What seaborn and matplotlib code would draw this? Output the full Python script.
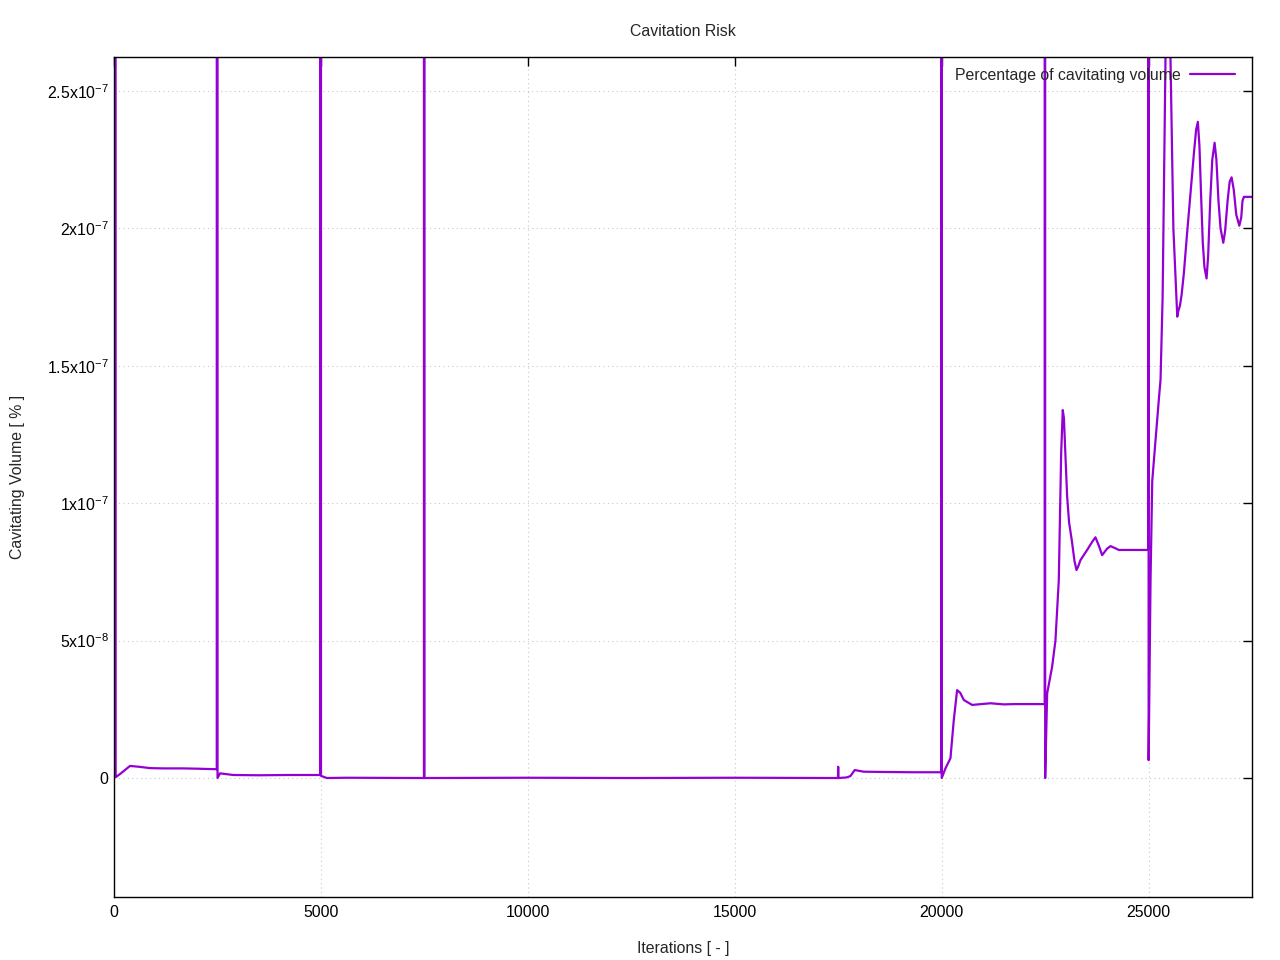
import numpy as np
import pandas as pd
import matplotlib
matplotlib.use("Agg")
from matplotlib import pyplot as plt
import seaborn as sns

# iteration / cavitating volume (in 1e-9 %)
iterations = [
    0, 10, 40, 150, 387, 600, 870, 1200, 1676, 2000, 2483,
    2498, 2502, 2563, 2885, 3500, 4200, 4980,
    4998, 5002, 5143, 5600, 7490,
    7498, 7502, 10000, 12500, 15000, 17495,
    17500, 17505, 17700, 17795, 17900, 18118, 18600, 19300, 19990,
    19998, 20002, 20092, 20213, 20293, 20374, 20450, 20535, 20737, 20950, 21180, 21500, 21744, 22200, 22490,
    22498, 22502, 22550, 22670, 22750, 22831, 22888, 22927, 22955, 22990, 23033, 23080, 23150, 23210, 23259,
    23300, 23355, 23516, 23640, 23717, 23800, 23878, 24000, 24081, 24200, 24282, 24990,
    24998, 25002, 25048, 25089, 25169, 25250, 25290, 25340, 25440, 25530, 25600,
    25694, 25720, 25760, 25800, 25854, 25930, 26015, 26100, 26150, 26192, 26230, 26270, 26310, 26350,
    26402, 26440, 26490, 26540, 26596, 26640, 26690, 26740, 26806, 26850, 26910, 26960, 27007, 27060,
    27120, 27193, 27240, 27270, 27304, 27500,
]
volume_e9 = [
    0.5, 5000, 0.3, 1.5, 4.4, 4.1, 3.6, 3.5, 3.5, 3.4, 3.2,
    5000, 0.0, 1.7, 1.1, 1.0, 1.1, 1.1,
    5000, 0.8, 0.0, 0.1, 0.0,
    5000, 0.0, 0.1, 0.0, 0.1, 0.0,
    4.1, 0.0, 0.2, 0.7, 2.9, 2.3, 2.2, 2.1, 2.1,
    5000, 0.0, 3.5, 7.2, 21.0, 32.0, 31.0, 28.4, 26.6, 26.9, 27.2, 26.8, 26.9, 26.9, 26.9,
    5000, 0.0, 30.8, 40.5, 50.0, 72.0, 118.0, 133.9, 131.0, 118.0, 102.4, 93.0, 86.0, 79.0, 75.7,
    77.0, 79.3, 83.0, 86.0, 87.6, 84.5, 81.1, 83.5, 84.4, 83.6, 83.0, 83.0,
    5000, 6.5, 72.0, 108.0, 123.0, 138.0, 145.0, 175.0, 300.0, 262.0, 200.0,
    167.9, 170.0, 172.0, 176.0, 183.8, 198.0, 213.0, 228.0, 236.0, 238.8, 230.0, 212.0, 195.0, 186.0,
    181.8, 190.0, 210.0, 225.0, 231.2, 225.0, 210.0, 200.0, 194.8, 199.0, 210.0, 217.0, 218.6, 214.0,
    205.0, 201.0, 204.0, 210.0, 211.5, 211.5,
]

y_ticks = [0, 5e-8, 1e-7, 1.5e-7, 2e-7, 2.5e-7]
y_tick_labels = ["0", r"$\mathrm{5x10^{-8}}$", r"$\mathrm{1x10^{-7}}$",
                 r"$\mathrm{1.5x10^{-7}}$", r"$\mathrm{2x10^{-7}}$", r"$\mathrm{2.5x10^{-7}}$"]
x_ticks = [0, 5000, 10000, 15000, 20000, 25000]

df = pd.DataFrame({"Iterations": iterations,
                   "Volume": np.array(volume_e9) * 1e-9})

sns.set_style("white")
plt.rcParams["font.family"] = ["Liberation Sans", "DejaVu Sans"]
plt.rcParams["mathtext.fontset"] = "custom"
plt.rcParams["mathtext.rm"] = "Liberation Sans"
plt.rcParams["mathtext.it"] = "Liberation Sans:italic"
fs = 11.4

fig = plt.figure(figsize=(12.8, 9.6), dpi=100)
ax = fig.add_axes([114 / 1280, 1 - 897 / 960, 1138 / 1280, 840 / 960])

sns.lineplot(data=df, x="Iterations", y="Volume", ax=ax, sort=False, estimator=None,
             color="#9400D3", linewidth=1.6, label="Percentage of cavitating volume")

ax.set_xlim(0, 27500)
ax.set_ylim(-4.33e-8, 2.624e-7)
ax.set_xticks(x_ticks)
ax.set_xticklabels([str(t) for t in x_ticks])
ax.set_yticks(y_ticks)
ax.set_yticklabels(y_tick_labels)

ax.grid(True, color="#c8c8c8", linestyle=(0, (1, 3)), linewidth=0.8)
for s in ax.spines.values():
    s.set_color("black")
    s.set_linewidth(1.0)
ax.tick_params(direction="in", length=6.5, width=1.0, top=True, right=True,
               labelsize=fs, colors="black", pad=6)
ax.tick_params(axis="y", pad=4)

ax.set_xlabel("Iterations [ - ]", fontsize=fs)
ax.set_ylabel("Cavitating Volume [ % ]", fontsize=fs)
ax.xaxis.set_label_coords(0.5, -(948 - 897) / 840)
ax.xaxis.label.set_va("center")
ax.yaxis.set_label_coords(-(114 - 18) / 1138, 0.5)
ax.yaxis.label.set_va("center")
fig.text(683 / 1280, 1 - 31 / 960, "Cavitation Risk", ha="center", va="center", fontsize=fs)

ax.legend(loc="upper right", bbox_to_anchor=(1 - 17 / 1138, 1 - 11 / 840), frameon=False,
          markerfirst=False, fontsize=fs, handlelength=2.85, handletextpad=0.6,
          borderpad=0, borderaxespad=0)

fig.savefig("out.png", dpi=100)
